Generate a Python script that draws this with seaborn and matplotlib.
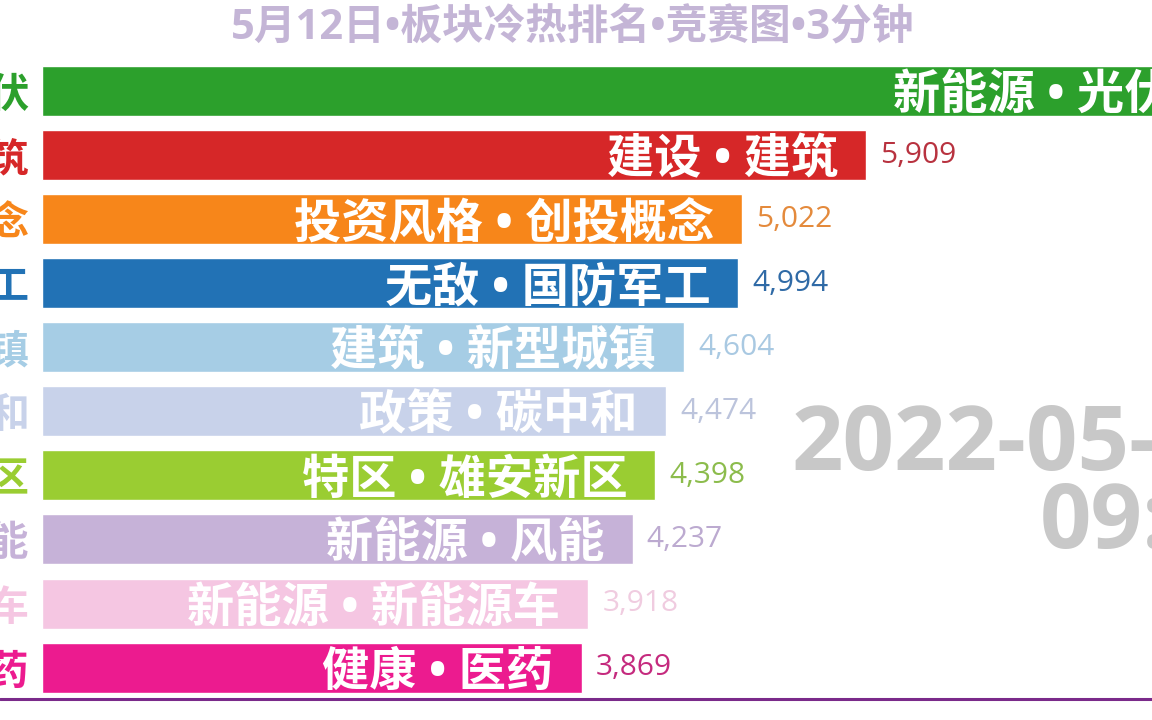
import seaborn as sns
import matplotlib.pyplot as plt
from matplotlib.lines import Line2D
import pandas as pd

# frame data: sectors ranked for this moment
full_names = ['新能源 • 光伏', '建设 • 建筑', '投资风格 • 创投概念', '无敌 • 国防军工',
              '建筑 • 新型城镇', '政策 • 碳中和', '特区 • 雄安新区', '新能源 • 风能',
              '新能源 • 新能源车', '健康 • 医药']
short_names = ['光伏', '建筑', '创投概念', '国防军工', '新型城镇', '碳中和',
               '雄安新区', '风能', '新能源车', '医药']
values = [8300, 5909, 5022, 4994, 4604, 4474, 4398, 4237, 3918, 3869]
bar_colors = ['#2ca02c', '#d62728', '#f7861a', '#2272b5', '#a6cde5', '#c8d2ea',
              '#9acd32', '#c6b2d8', '#f5c6e2', '#ec1b8f']
value_colors = ['#2ca02c', '#b8323f', '#e48a3c', '#2f6aa6', '#a9c9e2', '#bcc4dc',
                '#8cbc4c', '#bcaad0', '#f0cce0', '#c52a7e']
title = '5月12日•板块冷热排名•竞赛图•3分钟'
date_line1 = '2022-05-12'
date_line2 = '09:30'

sns.set_style('white')
plt.rcParams['font.family'] = ['Noto Sans CJK SC', 'DejaVu Sans']
mixed = ['Open Sans', 'Noto Sans CJK SC', 'DejaVu Sans']

df = pd.DataFrame({'name': short_names, 'value': values})

fig = plt.figure(figsize=(11.52, 7.2), dpi=100)
ax = fig.add_axes([42 / 1152, 21 / 720, 1 - 42 / 1152, 699 / 720])

sns.barplot(data=df, y='name', x='value', hue='name', palette=bar_colors,
            saturation=1, orient='h', width=0.78, legend=False, ax=ax)

k = 1110 / 7960  # px per unit
ax.set_xlim(0, 7960)
ax.set_ylim(9.49, -1.42)
for s in ax.spines.values():
    s.set_visible(False)
ax.set_xticks([])
ax.set_xlabel('')
ax.set_ylabel('')
ax.tick_params(axis='y', length=0, pad=9)
ax.set_yticks(range(len(short_names)))
ax.set_yticklabels(short_names, fontsize=29, fontweight='bold')
for lbl, c in zip(ax.get_yticklabels(), bar_colors):
    lbl.set_color(c)

for i, (nm, v) in enumerate(zip(full_names, values)):
    ax.text(v - 28 / k, i, nm, ha='right', va='center_baseline', color='white',
            fontsize=34, fontweight='bold', family=mixed, clip_on=True)
    ax.text(v + 14 / k, i, f'{v:,}', ha='left', va='center', color=value_colors[i],
            fontsize=21.5, family=['Open Sans', 'DejaVu Sans'], clip_on=True)

fig.text(573 / 1152, 1 - 29 / 720, title, ha='center', va='center',
         fontsize=30, fontweight='bold', color='#c4b5d6', family=mixed)

fig.text(792 / 1152, 1 - 447 / 720, date_line1, ha='left', va='center',
         fontsize=65, fontweight='bold', color='#c8c8c8',
         family=['Open Sans', 'DejaVu Sans'])
fig.text(1040 / 1152, 1 - 525 / 720, date_line2, ha='left', va='center',
         fontsize=65, fontweight='bold', color='#c8c8c8',
         family=['Open Sans', 'DejaVu Sans'])

fig.add_artist(Line2D([0, 1], [21 / 720, 21 / 720], color='#7a2a8a', lw=2.2))

fig.savefig('out.png', dpi=100)
